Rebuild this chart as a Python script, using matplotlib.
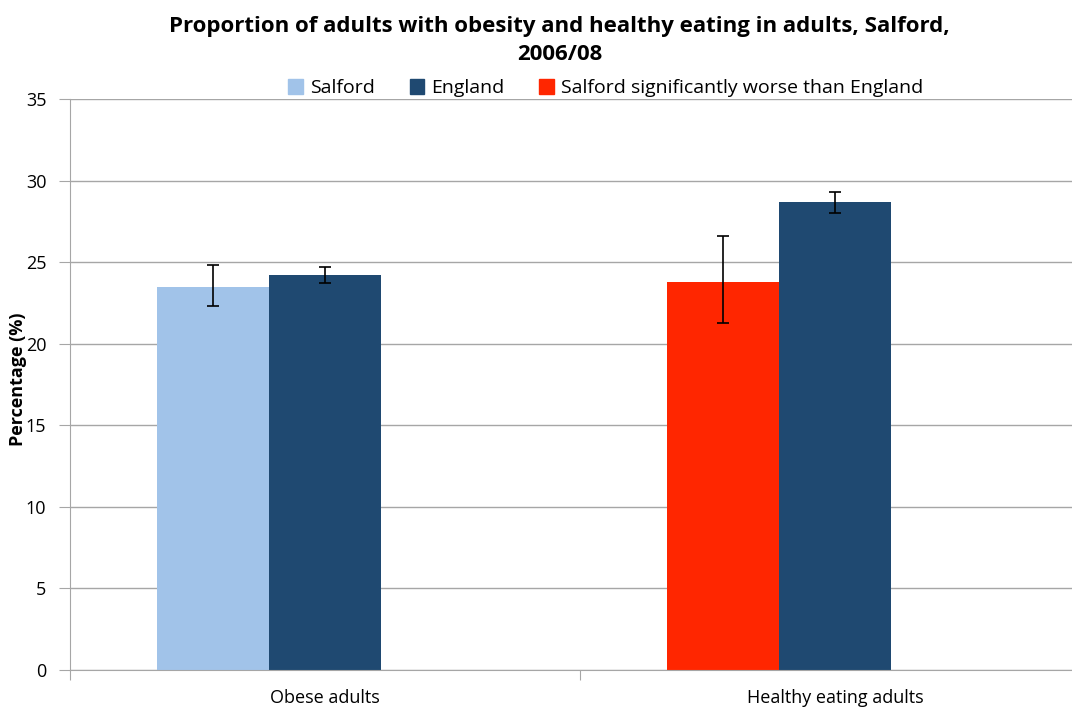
import numpy as np
import matplotlib.pyplot as plt
from matplotlib.patches import Patch

plt.rcParams["font.family"] = ["Open Sans", "DejaVu Sans"]

categories = ["Obese adults", "Healthy eating adults"]
salford = [23.5, 23.8]
salford_low = [22.3, 21.3]
salford_high = [24.8, 26.6]
england = [24.2, 28.7]
england_low = [23.7, 28.0]
england_high = [24.7, 29.3]
salford_worse = [False, True]

LIGHT = "#a1c3e9"
DARK = "#1f4971"
RED = "#ff2600"
GRID = "#a6a6a6"

fig = plt.figure(figsize=(10.72, 7.17), dpi=100)
ax = fig.add_axes([70 / 1072, 47 / 717, 1020 / 1072, 571 / 717])

x = np.arange(len(categories))
w = 0.22
sal_colors = [RED if s else LIGHT for s in salford_worse]

sal_err = [np.array(salford) - np.array(salford_low), np.array(salford_high) - np.array(salford)]
eng_err = [np.array(england) - np.array(england_low), np.array(england_high) - np.array(england)]

# Salford bar sits left of the category centre, England bar on it
ax.bar(x - w, salford, w, color=sal_colors, zorder=2)
ax.bar(x, england, w, color=DARK, zorder=2)
ax.errorbar(x - w, salford, yerr=sal_err, fmt="none", ecolor="black",
            elinewidth=1.2, capsize=4, capthick=1.2, zorder=3)
ax.errorbar(x, england, yerr=eng_err, fmt="none", ecolor="black",
            elinewidth=1.2, capsize=4, capthick=1.2, zorder=3)

ax.set_xlim(-0.5, 1.5)
ax.set_ylim(0, 35)
ax.set_yticks(range(0, 36, 5))
ax.yaxis.grid(True, color=GRID, linewidth=1)
ax.set_axisbelow(True)

ax.set_xticks([-0.5, 0.5, 1.5])
ax.set_xticklabels([])
ax.set_xticks(x, minor=True)
ax.set_xticklabels(categories, minor=True, fontsize=13)
ax.tick_params(axis="x", which="minor", length=0, pad=14)
ax.tick_params(axis="x", which="major", length=7, color=GRID)
ax.tick_params(axis="y", length=8, color=GRID, labelsize=13, pad=9)

for side in ["top", "right"]:
    ax.spines[side].set_visible(False)
for side in ["left", "bottom"]:
    ax.spines[side].set_color(GRID)

ax.set_ylabel("Percentage (%)", fontsize=13, fontweight="bold")
ax.yaxis.set_label_coords(-43 / 1020, 0.51)

fig.text(0.522, 0.978, "Proportion of adults with obesity and healthy eating in adults, Salford,\n2006/08",
         ha="center", va="top", fontsize=16, fontweight="bold", linespacing=1.45)

handles = [Patch(color=LIGHT, label="Salford"),
           Patch(color=DARK, label="England"),
           Patch(color=RED, label="Salford significantly worse than England")]
fig.legend(handles=handles, loc="center", bbox_to_anchor=(0.565, 0.877), ncol=3,
           frameon=False, fontsize=14, handlelength=0.75, handleheight=0.75,
           handletextpad=0.35, columnspacing=1.8, borderaxespad=0)

fig.savefig("out.png", dpi=100)
